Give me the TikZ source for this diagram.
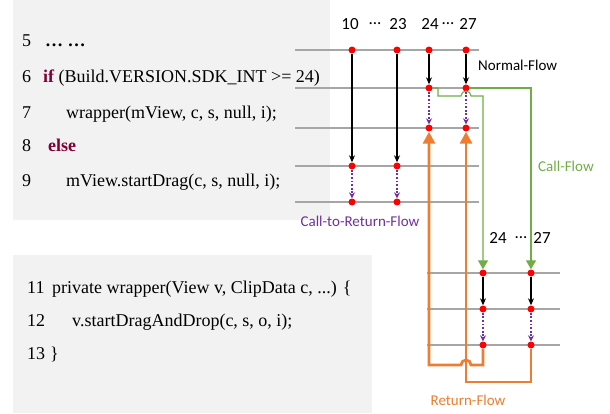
\documentclass[tikz,border=0pt]{standalone}
\usepackage{fontspec}
\setmainfont{Liberation Serif}
\newfontfamily\flowfont{Carlito}
\usetikzlibrary{arrows.meta}

\definecolor{boxgray}{HTML}{F2F2F2}
\definecolor{linegray}{HTML}{A6A6A6}
\definecolor{kwred}{HTML}{7F0037}
\definecolor{callgreen}{HTML}{70AD47}
\definecolor{retorange}{HTML}{ED7D31}
\definecolor{ctrpurple}{HTML}{7030A0}

\tikzset{
  dot/.style={circle, fill=red, inner sep=0pt, minimum size=7pt},
  rowline/.style={draw=linegray, line width=1.2pt},
  normalflow/.style={-{Stealth[length=7pt,width=6pt]}, black, line width=1.1pt},
  ctrflow/.style={-{Stealth[length=6pt,width=6pt]}, ctrpurple, dash pattern=on 1.8pt off 1.8pt, line width=1.1pt},
  callflow/.style={-{Triangle[length=9pt,width=10pt]}, callgreen, line width=1.1pt},
  retflow/.style={-{Triangle[length=12pt,width=12pt]}, retorange, line width=2.8pt},
  code/.style={anchor=base west, inner sep=0pt, font=\fontsize{18}{18}\selectfont},
  flowlbl/.style={inner sep=0pt, font=\flowfont\fontsize{15}{15}\selectfont},
  numlbl/.style={inner sep=0pt, font=\flowfont\fontsize{17}{17}\selectfont}
}

\begin{document}
\begin{tikzpicture}[x=1pt, y=-1pt]
  \useasboundingbox (0,0) rectangle (610,413);

  % code boxes
  \fill[boxgray] (13,0) rectangle (330,220);
  \fill[boxgray] (13,255) rectangle (372,413);

  \node[code] (l5) at (22,46) {5};
  \node[code] (l5t) at (45,46) {\textbf{… …}};
  \node[code] (l6) at (22,82) {6};
  \node[code] (l6t) at (43,82) {\textbf{\color{kwred}if} (Build.VERSION.SDK\_INT >= 24)};
  \node[code] (l7) at (22,118) {7};
  \node[code] (l7t) at (66,118) {wrapper(mView, c, s, null, i);};
  \node[code] (l8) at (22,151) {8};
  \node[code] (l8t) at (48,151) {\textbf{\color{kwred}else}};
  \node[code] (l9) at (22,186) {9};
  \node[code] (l9t) at (66,186) {mView.startDrag(c, s, null, i);};

  \node[code] (l11) at (27,293) {11};
  \node[code] (l11t) at (52,293) {private wrapper(View v, ClipData c, ...) \{};
  \node[code] (l12) at (27,326) {12};
  \node[code] (l12t) at (72,326) {v.startDragAndDrop(c, s, o, i);};
  \node[code] (l13) at (27,359) {13};
  \node[code] (l13t) at (50,359) {\}};

  % statement rows
  \foreach \y in {50,88,128,166,202}
    \draw[rowline] (295,\y) -- (479,\y);
  \foreach \y in {273,309,345}
    \draw[rowline] (427,\y) -- (560,\y);

  % column headers
  \node[numlbl] (h10) at (350,24) {10};
  \node[numlbl] (hd1) at (375,24) {...};
  \node[numlbl] (h23) at (398,24) {23};
  \node[numlbl] (h24) at (430,24) {24};
  \node[numlbl] (hd2) at (448,24) {...};
  \node[numlbl] (h27) at (468,24) {27};
  \node[numlbl] (k24) at (498,238) {24};
  \node[numlbl] (kd) at (521,238) {...};
  \node[numlbl] (k27) at (542,238) {27};

  % dots
  \foreach \c/\x in {a/352,b/397,c/429,d/466}
    \node[dot] (\c1) at (\x,50) {};
  \foreach \c/\x in {c/429,d/466}
  {
    \node[dot] (\c2) at (\x,88) {};
    \node[dot] (\c3) at (\x,128) {};
  }
  \foreach \c/\x in {a/352,b/397}
  {
    \node[dot] (\c4) at (\x,166) {};
    \node[dot] (\c5) at (\x,202) {};
  }
  \foreach \c/\x in {e/483,f/531}
  {
    \node[dot] (\c1) at (\x,273) {};
    \node[dot] (\c2) at (\x,309) {};
    \node[dot] (\c3) at (\x,345) {};
  }

  % normal-flow
  \draw[normalflow] (a1) -- (a4);
  \draw[normalflow] (b1) -- (b4);
  \draw[normalflow] (c1) -- (c2);
  \draw[normalflow] (d1) -- (d2);
  \draw[normalflow] (e1) -- (e2);
  \draw[normalflow] (f1) -- (f2);

  % call-to-return-flow
  \draw[ctrflow] (a4) -- (a5);
  \draw[ctrflow] (b4) -- (b5);
  \draw[ctrflow] (c2) -- (c3);
  \draw[ctrflow] (d2) -- (d3);
  \draw[ctrflow] (e2) -- (e3);
  \draw[ctrflow] (f2) -- (f3);

  % call-flow
  \draw[callflow] (d2) -| (f1);
  \draw[callflow] (c2) -- (438,88) -- (438,96) -- (461,96)
    arc[start angle=180, end angle=360, radius=5] -| (e1);

  % return-flow
  \coordinate (ret1) at (483,365);
  \coordinate (ret2) at (531,382);
  \draw[retflow] (e3) -- (ret1) -- (471,365)
    arc[start angle=0, end angle=-180, radius=5] -| (c3);
  \draw[retflow] (f3) -- (ret2) -| (d3);

  % flow labels
  \node[flowlbl, anchor=west] (nf) at (478,65) {Normal-Flow};
  \node[flowlbl, text=callgreen] (cf) at (566,166) {Call-Flow};
  \node[flowlbl, text=ctrpurple] (crf) at (360,221) {Call-to-Return-Flow};
  \node[flowlbl, text=retorange] (rf) at (468,400) {Return-Flow};
\end{tikzpicture}
\end{document}
